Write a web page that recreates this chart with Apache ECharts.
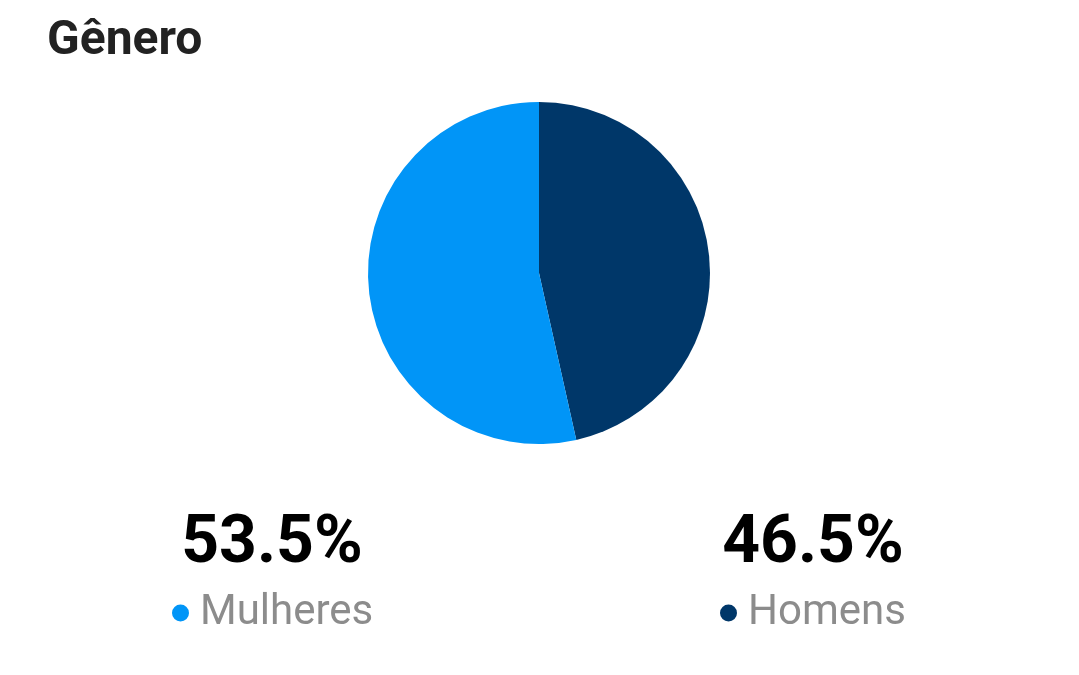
<!DOCTYPE html>
<html>
<head>
<meta charset="utf-8">
<script src="https://cdn.jsdelivr.net/npm/echarts@6/dist/echarts.min.js"></script>
<style>
html,body{margin:0;padding:0;background:#fff;}
#chart{width:1079px;height:675px;}
</style>
</head>
<body>
<div id="chart"></div>
<script>
const titleText = "Gênero";
const categories = ["Homens", "Mulheres"];
const values = [46.5, 53.5];
const colors = ["#003769", "#0195F7"];
// label column centers (left/right)
const labelCenters = {"Mulheres": 272, "Homens": 813};

const chart = echarts.init(document.getElementById('chart'));
const font = "Roboto, 'Noto Sans', sans-serif";

const graphics = [];
categories.forEach((name, i) => {
  const cx = labelCenters[name];
  graphics.push({
    type: 'text',
    x: cx, y: 578,
    style: {
      text: values[i].toFixed(1) + '%',
      font: 'bold 66px ' + font,
      fill: '#000',
      textAlign: 'center',
      textVerticalAlign: 'bottom'
    }
  });
});

const legendStyle = {
  icon: 'circle', itemWidth: 17, itemHeight: 17, itemGap: 0,
  textStyle: { fontFamily: font, fontSize: 42, color: '#8c8c8c', padding: [0,0,0,6] },
  selectedMode: false
};

chart.setOption({
  backgroundColor: '#fff',
  animation: false,
  title: {
    text: titleText,
    left: 42, top: 13,
    textStyle: { fontFamily: font, fontWeight: 'bold', fontSize: 48, color: '#222' }
  },
  legend: [
    Object.assign({ data: ["Mulheres"], left: 167, top: 587 }, legendStyle),
    Object.assign({ data: ["Homens"], left: 715, top: 587 }, legendStyle)
  ],
  graphic: graphics,
  series: [{
    type: 'pie',
    center: [539, 273],
    radius: [0, 171],
    startAngle: 90,
    clockwise: true,
    label: { show: false },
    labelLine: { show: false },
    emphasis: { disabled: true },
    itemStyle: { borderWidth: 0 },
    data: categories.map((c, i) => ({ name: c, value: values[i], itemStyle: { color: colors[i] } }))
  }]
});
</script>
</body>
</html>
